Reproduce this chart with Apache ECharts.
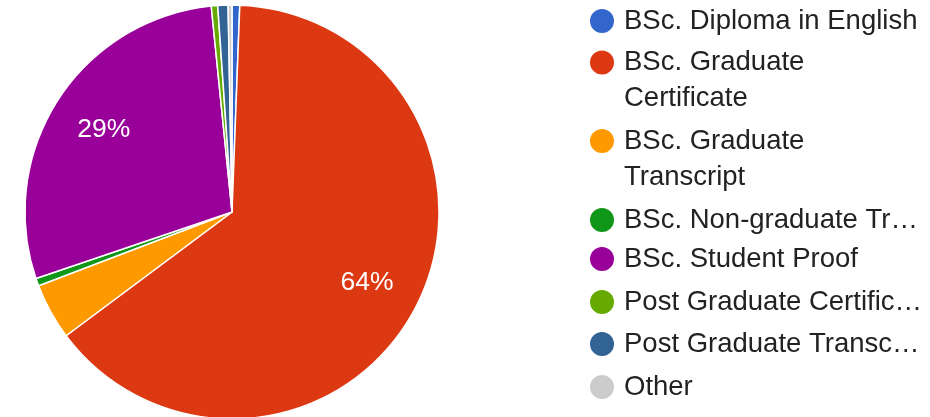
<!DOCTYPE html>
<html><head><meta charset="utf-8">
<script src="https://cdn.jsdelivr.net/npm/echarts@6/dist/echarts.min.js"></script>
<style>html,body{margin:0;padding:0;background:#fff}#c{width:930px;height:417px}</style>
</head><body><div id="c"></div>
<script>
const categories = ["BSc. Diploma in English","BSc. Graduate Certificate","BSc. Graduate Transcript","BSc. Non-graduate Transcript","BSc. Student Proof","Post Graduate Certificate","Post Graduate Transcript","Other"];
const legendLabels = ["BSc. Diploma in English","BSc. Graduate\nCertificate","BSc. Graduate\nTranscript","BSc. Non-graduate Tr\u2026","BSc. Student Proof","Post Graduate Certific\u2026","Post Graduate Transc\u2026","Other"];
const shares = [0.6,64.2,4.4,0.6,28.6,0.5,0.8,0.3];
const colors = ["#3366cc","#dc3912","#ff9900","#109618","#990099","#66aa00","#316395","#cccccc"];
const legendCenters = [21,62.5,141,220,259,302,344,387];

const FONT = "'Liberation Sans', Arial, sans-serif";
const chart = echarts.init(document.getElementById('c'));

const legends = categories.map((name, i) => {
  const two = legendLabels[i].indexOf('\n') >= 0;
  return {
    data: [{ name: name, icon: 'circle' }],
    orient: 'vertical',
    left: 588,
    top: legendCenters[i] - 13 - (two ? 41 : 5),
    padding: 0,
    itemWidth: 34,
    itemHeight: 26,
    selectedMode: false,
    formatter: () => (two ? '\n' : '') + legendLabels[i],
    textStyle: { fontFamily: FONT, fontSize: 27.5, lineHeight: 36, color: '#222' }
  };
});

const baseData = categories.map((n, i) => ({ name: n, value: shares[i], itemStyle: { color: colors[i] } }));
const labelData = categories.map((n, i) => ({ name: n, value: shares[i], itemStyle: { color: 'rgba(0,0,0,0)' } }));

chart.setOption({
  animation: false,
  legend: legends,
  series: [
    {
      type: 'pie', center: [232, 212], radius: 207, startAngle: 90, clockwise: true,
      data: baseData, silent: true,
      label: { show: false }, labelLine: { show: false },
      itemStyle: { borderColor: '#fff', borderWidth: 1.5 },
      emphasis: { disabled: true }
    },
    {
      type: 'pie', center: [232, 212], radius: [92, 207], startAngle: 90, clockwise: true,
      data: labelData, silent: true,
      label: {
        show: true, position: 'inside', color: '#fff', fontFamily: FONT, fontSize: 26.5,
        formatter: p => (p.percent >= 10 ? Math.round(p.percent) + '%' : '')
      },
      labelLine: { show: false },
      itemStyle: { borderWidth: 0 },
      emphasis: { disabled: true }
    }
  ]
});
</script></body></html>
